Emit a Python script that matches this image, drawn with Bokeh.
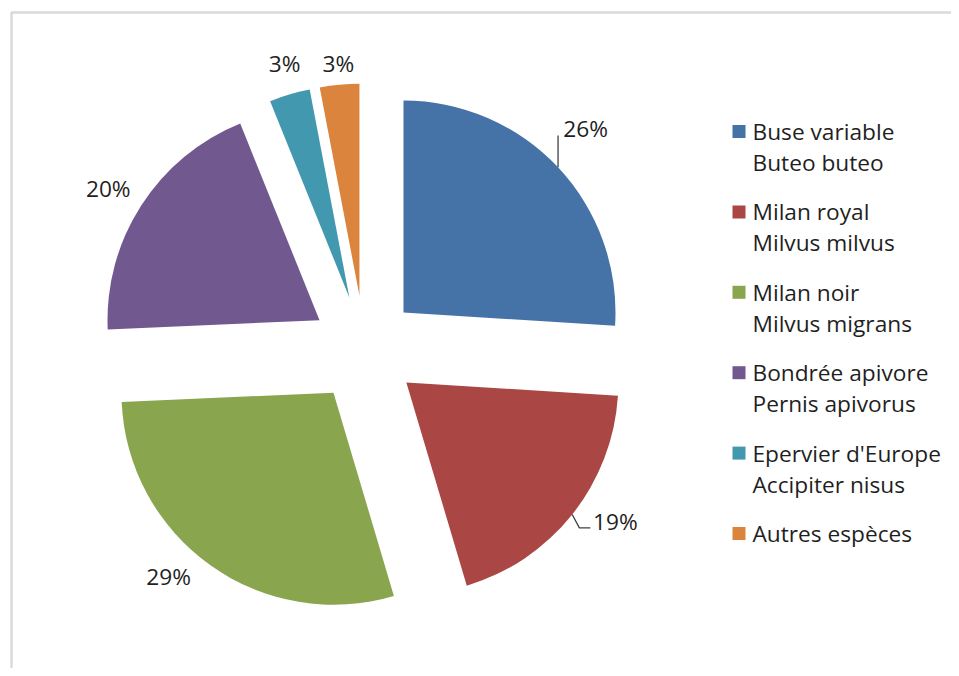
import math
from bokeh.plotting import figure
from bokeh.models import Range1d, BoxAnnotation, ColumnDataSource
from bokeh.core.properties import value
from bokeh.embed import file_html
from bokeh.resources import INLINE

# ---- data ----
species = ["Buse variable", "Milan royal", "Milan noir", "Bondrée apivore",
           "Epervier d'Europe", "Autres espèces"]
latin = ["Buteo buteo", "Milvus milvus", "Milvus migrans", "Pernis apivorus",
         "Accipiter nisus", ""]
shares = [26.0, 19.4, 28.9, 19.6, 3.1, 3.0]   # percent of observations
colors = ["#4572A7", "#AA4643", "#89A54E", "#71588F", "#4198AF", "#DB843D"]

# ---- layout (style) ----
W, H = 951, 668
FONT = "Open Sans"
FS = "22.7px"
TXT = "#1f1f1f"
CX, CY = 356.0, 327.4      # pie centre (data units = px)
R = 212.0                  # radius
EXPLODE = 53.5             # explosion offset
# label placement: (angle nudge from mid-angle in deg, distance from slice apex)
LABEL_NUDGE = [(-2.1, 259), (-4.9, 251), (6.4, 247), (-0.8, 249), (0.9, 243), (0.2, 233)]

p = figure(width=W, height=H, output_backend="svg", toolbar_location=None,
           x_range=Range1d(-8, W - 8), y_range=Range1d(8, H + 8), min_border=0)
p.axis.visible = False
p.grid.visible = False
p.outline_line_color = None
p.background_fill_color = "white"

total = float(sum(shares))
pct_labels = [f"{round(100 * v / total):d}%" for v in shares]
xs, ys, starts, ends = [], [], [], []
apexes, mids = [], []
cum = 0.0
for v in shares:
    a = cum / total
    b = (cum + v) / total
    cum += v
    mid_top = 360.0 * (a + b) / 2.0          # angle measured clockwise from 12 o'clock
    m = math.radians(90.0 - mid_top)
    ax = CX + EXPLODE * math.cos(m)
    ay = CY + EXPLODE * math.sin(m)
    xs.append(ax); ys.append(ay)
    starts.append(math.radians(90.0 - 360.0 * a))
    ends.append(math.radians(90.0 - 360.0 * b))
    apexes.append((ax, ay)); mids.append(mid_top)

src = ColumnDataSource(dict(x=xs, y=ys, s=starts, e=ends, c=colors))
p.wedge(x="x", y="y", radius=R, start_angle="s", end_angle="e",
        direction="clock", fill_color="c", line_color=None, source=src)

# percentage labels
lx, ly = [], []
for (ax, ay), mt, (dn, L) in zip(apexes, mids, LABEL_NUDGE):
    t = math.radians(mt + dn)
    lx.append(ax + L * math.sin(t))
    ly.append(ay + L * math.cos(t))
p.text(x=lx, y=ly, text=pct_labels, text_font=value(FONT), text_font_size=FS,
       text_color=TXT, text_align="center", text_baseline="middle")

# leader lines (slices 0 and 1)
def arc_pt(i):
    ax, ay = apexes[i]
    t = math.radians(mids[i])
    return ax + R * math.sin(t), ay + R * math.cos(t)

bx, by = arc_pt(0)
p.line([bx, bx], [by, ly[0] - 7], line_color="#404040", line_width=1.3)
rx, ry = arc_pt(1)
left1 = lx[1] - 22
p.line([rx, left1 - 14, left1 - 3], [ry, ly[1] - 6.5, ly[1] - 6.5],
       line_color="#404040", line_width=1.3)

# legend (drawn manually)
LEG_SQ_X = 738.5 - 8
LEG_TX = 752 - 8
LEG_Y0 = 676 - 131
LEG_STEP = 80.4
LINE2 = 31
leg_y = [LEG_Y0 - i * LEG_STEP for i in range(len(species))]
p.rect(x=[LEG_SQ_X] * len(species), y=leg_y, width=13, height=13,
       fill_color=colors, line_color=None)
p.text(x=[LEG_TX] * len(species), y=leg_y, text=species, text_font=value(FONT),
       text_font_size=FS, text_color=TXT, text_align="left", text_baseline="middle")
p.text(x=[LEG_TX] * len(latin), y=[v - LINE2 for v in leg_y], text=latin,
       text_font=value(FONT), text_font_size=FS, text_color=TXT,
       text_align="left", text_baseline="middle")

# chart border (only top and left edges visible in the frame)
p.add_layout(BoxAnnotation(left=3, right=W + 50, top=H - 4, bottom=-50,
                           fill_alpha=0, line_color="#868686", line_width=2.5))

open("out.html", "w").write(file_html(p, INLINE))
